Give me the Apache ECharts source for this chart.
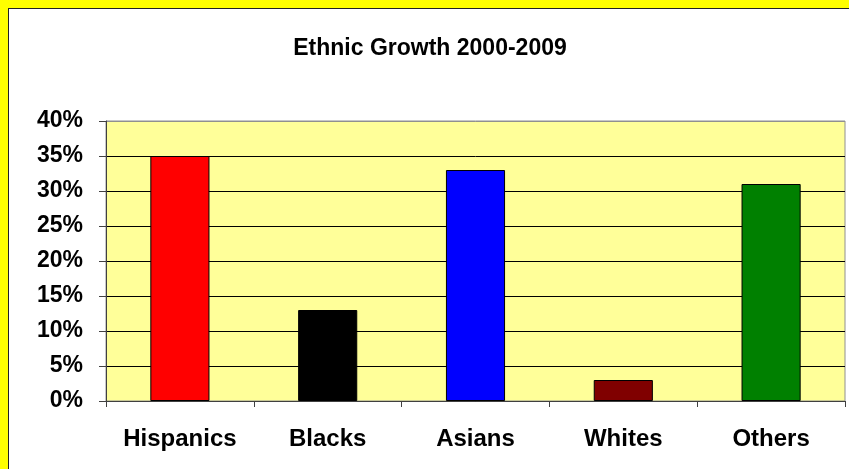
<!DOCTYPE html>
<html>
<head>
<meta charset="utf-8">
<script src="https://cdn.jsdelivr.net/npm/echarts@6/dist/echarts.min.js"></script>
<style>
  html, body { margin: 0; padding: 0; background: #ffff00; width: 849px; height: 469px; overflow: hidden; }
  #frame { position: absolute; left: 8px; top: 8px; width: 841px; height: 461px; background: #fff;
           border-left: 1px solid #222; border-top: 1px solid #222; box-sizing: border-box; }
  #chart { position: absolute; left: 1px; top: 1px; width: 840px; height: 460px; }
</style>
</head>
<body>
<div id="frame"><div id="chart"></div></div>
<script>
// 数据
const categories = ["Hispanics", "Blacks", "Asians", "Whites", "Others"];
const growth = [35, 13, 33, 3, 31];
const barColors = ["#ff0000", "#000000", "#0000ff", "#800000", "#008000"];

const chart = echarts.init(document.getElementById("chart"));

const option = {
    animation: false,
    title: {
        text: "Ethnic Growth 2000-2009",
        left: "center",
        top: 22,
        textStyle: {
            fontFamily: "Liberation Sans, Arial",
            fontWeight: "bold",
            fontSize: 23,
            color: "#000"
        }
    },
    grid: {
        left: 96,
        top: 111,
        right: 5,
        bottom: 69,
        show: true,
        backgroundColor: "#ffff99",
        borderColor: "#909090",
        borderWidth: 1
    },
    xAxis: {
        type: "category",
        data: categories,
        axisLine: { lineStyle: { color: "#404040", width: 1 } },
        axisTick: { show: true, length: 6, lineStyle: { color: "#404040" } },
        axisLabel: {
            interval: 0,
            margin: 26,
            fontFamily: "Liberation Sans, Arial",
            fontWeight: "bold",
            fontSize: 24,
            color: "#000"
        }
    },
    yAxis: {
        type: "value",
        min: 0,
        max: 40,
        interval: 5,
        axisLine: { show: true, lineStyle: { color: "#404040", width: 1 } },
        axisTick: { show: true, length: 7, lineStyle: { color: "#404040" } },
        // 顶部网格线用灰色
        splitLine: { lineStyle: { color: ["#000", "#000", "#000", "#000", "#000", "#000", "#000", "#000", "#909090"], width: 1 } },
        axisLabel: {
            formatter: "{value}%",
            margin: 23,
            fontFamily: "Liberation Sans, Arial",
            fontWeight: "bold",
            fontSize: 23,
            color: "#000"
        }
    },
    series: [{
        type: "bar",
        barWidth: "40%",
        data: growth.map((v, i) => ({
            value: v,
            itemStyle: { color: barColors[i], borderColor: "#000", borderWidth: 1 }
        }))
    }]
};

chart.setOption(option);
</script>
</body>
</html>
